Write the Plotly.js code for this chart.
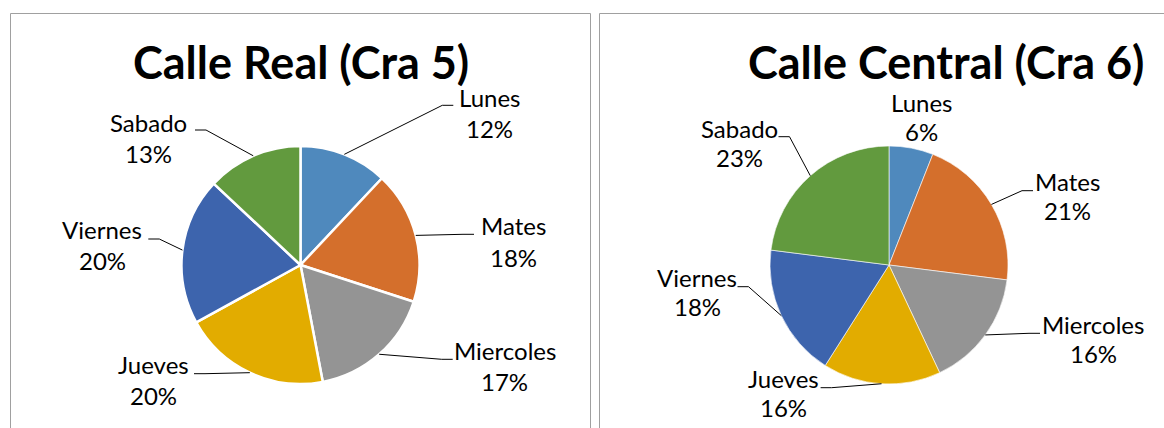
<!DOCTYPE html>
<html><head><meta charset="utf-8">
<script src="https://cdn.plot.ly/plotly-3.0.1.min.js"></script>
<style>html,body{margin:0;padding:0;background:#fff}#chart{width:1164px;height:428px}</style>
</head><body><div id="chart"></div>
<script>
// ---------- data ----------
const days = ['Lunes', 'Mates', 'Miercoles', 'Jueves', 'Viernes', 'Sabado'];
const realValues = [12, 18, 17, 20, 20, 13];
const centralValues = [6, 21, 16, 16, 18, 23];
const titleReal = 'Calle Real (Cra 5)';
const titleCentral = 'Calle Central (Cra 6)';

// ---------- styles / layout ----------
const sliceColors = ['#4F89BD', '#D46F2C', '#949494', '#E2AC00', '#3D64AD', '#629A3E'];
const W = 1164, H = 428;
const FONT = 'Lato, Carlito, Calibri, sans-serif';
const LABEL_SIZE = 24, TITLE_SIZE = 45;
const px = x => x / W, py = y => 1 - y / H;

const series = [realValues, centralValues];
const titles = [titleReal, titleCentral];
const chartLayout = [
  { cx: 300.5, cy: 265, r: 119, lineW: 2.5, titleX: 301, titleBase: 79, gap: 31.5,
    labelPos: [[489.5, 106.7], [513, 235], [504.7, 359.3], [153.3, 373.3], [102.2, 238.3], [148.8, 131.7]],
    leaderEnd: [[453.3, 105.3], [474, 234.3], [452.7, 359.3], [194, 373.7], [148.3, 239], [195, 130]],
    frame: [10.5, 590.5] },
  { cx: 889, cy: 265, r: 119, lineW: 0.6, titleX: 946, titleBase: 79, gap: 29.5,
    labelPos: [[921, 111.7], [1067, 190.7], [1093, 333.3], [783, 387.3], [697, 286.7], [739.5, 137.3]],
    leaderEnd: [null, [1033, 190.7], [1040, 333.3], [820.6, 387.7], [737.5, 286.7], [778.5, 136.7]],
    frame: [599.5, 1180] }
];

const traces = [], annotations = [], shapes = [];
const mid = fs => 0.387 * fs; // baseline -> vertical middle of line box

series.forEach((vals, k) => {
  const L = chartLayout[k];
  const total = vals.reduce((a, b) => a + b, 0);
  traces.push({
    type: 'pie', values: vals, labels: days, sort: false, direction: 'clockwise', rotation: 0,
    marker: { colors: sliceColors, line: { color: '#ffffff', width: L.lineW } },
    textinfo: 'none', hoverinfo: 'label+percent', showlegend: false,
    domain: { x: [px(L.cx - L.r), px(L.cx + L.r)], y: [py(L.cy + L.r), py(L.cy - L.r)] }
  });
  // frame
  shapes.push({ type: 'rect', xref: 'paper', yref: 'paper', x0: px(L.frame[0]), x1: px(L.frame[1]),
    y0: py(13.5), y1: py(460), line: { color: '#A0A0A0', width: 1 }, fillcolor: 'rgba(0,0,0,0)', layer: 'below' });
  // title
  annotations.push({ xref: 'paper', yref: 'paper', x: px(L.titleX), y: py(L.titleBase - mid(TITLE_SIZE)),
    xanchor: 'center', yanchor: 'middle', showarrow: false, text: titles[k],
    font: { family: FONT, size: TITLE_SIZE, weight: 700, color: '#000' } });
  // labels + leaders
  let cum = 0;
  vals.forEach((v, i) => {
    const ang = 2 * Math.PI * (cum + v / 2) / total;
    cum += v;
    const pct = Math.round(v / total * 100) + '%';
    const [lx, lb] = L.labelPos[i];
    annotations.push({ xref: 'paper', yref: 'paper', x: px(lx), y: py(lb - mid(LABEL_SIZE)),
      xanchor: 'center', yanchor: 'middle', showarrow: false, text: days[i],
      font: { family: FONT, size: LABEL_SIZE, color: '#000' } });
    annotations.push({ xref: 'paper', yref: 'paper', x: px(lx), y: py(lb + L.gap - mid(LABEL_SIZE)),
      xanchor: 'center', yanchor: 'middle', showarrow: false, text: pct,
      font: { family: FONT, size: LABEL_SIZE, color: '#000' } });
    const end = L.leaderEnd[i];
    if (end) {
      const ex = L.cx + L.r * Math.sin(ang), ey = L.cy - L.r * Math.cos(ang);
      const elbowX = end[0] + (end[0] < L.cx ? 11 : -11);
      shapes.push({ type: 'path', xref: 'paper', yref: 'paper',
        path: `M ${px(ex)} ${py(ey)} L ${px(elbowX)} ${py(end[1])} L ${px(end[0])} ${py(end[1])}`,
        line: { color: '#000', width: 1 } });
    }
  });
});

Plotly.newPlot('chart', traces, {
  width: W, height: H, margin: { l: 0, r: 0, t: 0, b: 0 },
  paper_bgcolor: '#fff', plot_bgcolor: '#fff', showlegend: false,
  annotations, shapes
}, { staticPlot: true, displayModeBar: false });
</script>
</body></html>
